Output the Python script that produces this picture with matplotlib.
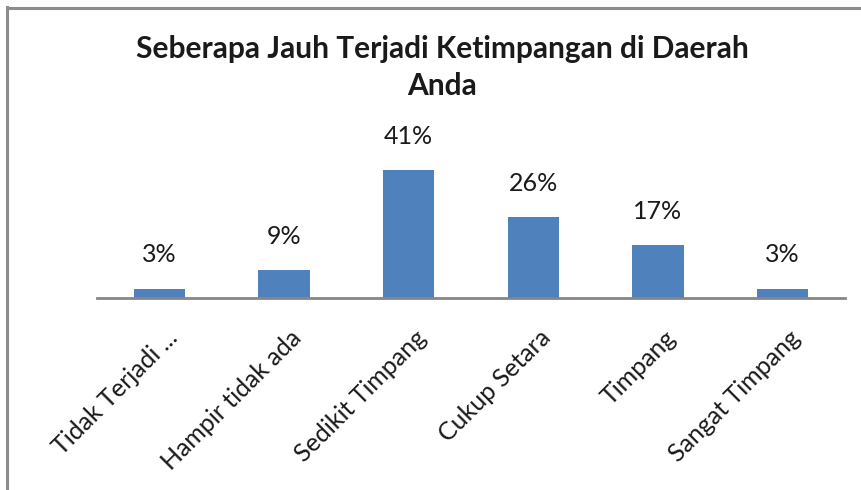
import matplotlib
matplotlib.use("Agg")
import matplotlib.pyplot as plt
from matplotlib.lines import Line2D
import matplotlib.transforms as mtransforms

categories = ["Tidak Terjadi ...", "Hampir tidak ada", "Sedikit Timpang",
              "Cukup Setara", "Timpang", "Sangat Timpang"]
values = [3, 9, 41, 26, 17, 3]
labels = ["3%", "9%", "41%", "26%", "17%", "3%"]
title_lines = ["Seberapa Jauh Terjadi Ketimpangan di Daerah", "Anda"]

W, H = 861, 490
DPI = 100
plt.rcParams['font.family'] = ['Lato', 'DejaVu Sans']

fig = plt.figure(figsize=(W / DPI, H / DPI), dpi=DPI)
fig.patch.set_facecolor("white")

# frame lines (left and top only)
fig.add_artist(Line2D([7 / W, 7 / W], [0, 1 - 7 / H], transform=fig.transFigure,
                      color="#8c8c8c", lw=2.2))
fig.add_artist(Line2D([7 / W, 1], [1 - 8 / H, 1 - 8 / H], transform=fig.transFigure,
                      color="#8c8c8c", lw=2.2))

ymax = 45
px_per = 3.12
ax_left, ax_right = 97, 845
ax_bottom = 298
ax_top = ax_bottom - ymax * px_per
ax = fig.add_axes([ax_left / W, 1 - ax_bottom / H, (ax_right - ax_left) / W,
                   (ax_bottom - ax_top) / H])
x = list(range(len(categories)))
bars = ax.bar(x, values, width=0.41, color="#4F81BD", zorder=2)
ax.set_xlim(-0.5, len(categories) - 0.5)
ax.set_ylim(0, ymax)
for s in ["top", "right", "left"]:
    ax.spines[s].set_visible(False)
ax.spines["bottom"].set_color("#868686")
ax.spines["bottom"].set_linewidth(2)
ax.set_yticks([])
ax.set_xticks(x)
ax.set_xticklabels([])
ax.tick_params(axis="x", length=0)

for xi, v, lab in zip(x, values, labels):
    ax.annotate(lab, (xi, v), xytext=(0, 16), textcoords="offset points",
                ha="center", va="bottom", fontsize=18, color="#1a1a1a")

offset = mtransforms.ScaledTranslation(14 / DPI, -36 / DPI, fig.dpi_scale_trans)
for xi, cat in zip(x, categories):
    ax.text(xi, 0, cat, rotation=45, rotation_mode="anchor", ha="right", va="center",
            fontsize=18, color="#1a1a1a",
            transform=ax.get_xaxis_transform() + offset)

fig.text(442 / W, 1 - 58 / H, title_lines[0], ha="center", va="baseline", fontsize=21.5,
         fontweight="bold", color="#1a1a1a")
fig.text(442 / W, 1 - 95 / H, title_lines[1], ha="center", va="baseline", fontsize=21.5,
         fontweight="bold", color="#1a1a1a")

fig.savefig("out.png", dpi=DPI, facecolor="white")
